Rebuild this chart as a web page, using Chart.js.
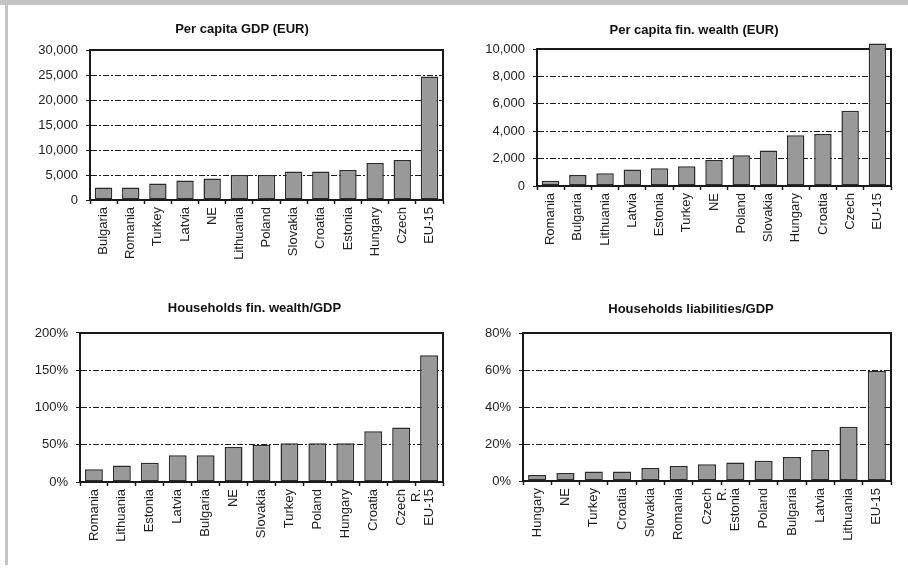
<!DOCTYPE html>
<html>
<head>
<meta charset="utf-8">
<script src="https://cdn.jsdelivr.net/npm/chart.js@4.4.1/dist/chart.umd.min.js"></script>
<style>
  html, body { margin: 0; padding: 0; background: #fff; overflow: hidden; }
  #page { position: relative; width: 908px; height: 572px; overflow: hidden; }
  .edge-top { position: absolute; left: 0; top: 0; width: 908px; height: 5px; background: #c4c4c4; }
  .edge-left { position: absolute; left: 5px; top: 0; width: 3px; height: 565px; background: #c4c4c4; }
  canvas { position: absolute; }
</style>
</head>
<body>
<div id="page">
  <div class="edge-top"></div>
  <div class="edge-left"></div>
  <canvas id="chart_gdp"></canvas>
  <canvas id="chart_wealth"></canvas>
  <canvas id="chart_wealth_gdp"></canvas>
  <canvas id="chart_liab_gdp"></canvas>
</div>
<script>
// Per capita GDP (EUR)
const gdpLabels = ['Bulgaria', 'Romania', 'Turkey', 'Latvia', 'NE', 'Lithuania', 'Poland',
    'Slovakia', 'Croatia', 'Estonia', 'Hungary', 'Czech', 'EU-15'];
const gdpValues = [2500, 2500, 3300, 3900, 4300, 5000, 5000, 5700, 5700, 6000, 7400, 8000, 24700];
const gdpMax = 30000, gdpStep = 5000;

// Per capita fin. wealth (EUR)
const wealthLabels = ['Romania', 'Bulgaria', 'Lithuania', 'Latvia', 'Estonia', 'Turkey', 'NE',
    'Poland', 'Slovakia', 'Hungary', 'Croatia', 'Czech', 'EU-15'];
const wealthValues = [380, 800, 930, 1200, 1300, 1450, 1900, 2250, 2600, 3700, 3800, 5500, 10400];
const wealthMax = 10000, wealthStep = 2000;

// Households fin. wealth/GDP (%)
const wealthGdpLabels = ['Romania', 'Lithuania', 'Estonia', 'Latvia', 'Bulgaria', 'NE', 'Slovakia',
    'Turkey', 'Poland', 'Hungary', 'Croatia', ['Czech', 'R.'], 'EU-15'];
const wealthGdpValues = [17, 22, 26, 36, 36, 47, 50, 52, 52, 52, 68, 73, 170];
const wealthGdpMax = 200, wealthGdpStep = 50;

// Households liabilities/GDP (%)
const liabLabels = ['Hungary', 'NE', 'Turkey', 'Croatia', 'Slovakia', 'Romania', ['Czech', 'R.'],
    'Estonia', 'Poland', 'Bulgaria', 'Latvia', 'Lithuania', 'EU-15'];
const liabValues = [3.3, 4.3, 5.2, 5.2, 7, 8.1, 9, 10, 11, 13, 16.7, 29.3, 59.4];
const liabMax = 80, liabStep = 20;

function withCommas(v) {
    return String(v).replace(/\B(?=(\d{3})+(?!\d))/g, ',');
}

// draws the closed frame round the plot area, under the bars
const frameBox = {
    id: 'frameBox',
    beforeDatasetsDraw(chart) {
        const a = chart.chartArea;
        const ctx = chart.ctx;
        ctx.save();
        ctx.strokeStyle = '#1a1a1a';
        ctx.lineWidth = 2;
        ctx.strokeRect(a.left, a.top, a.right - a.left, a.bottom - a.top);
        ctx.restore();
    }
};

// box: page coords of the plot area, the title centre, the left edge of the
// y labels and the top/bottom of the panel
function makeChart(id, title, labels, values, max, step, fmt, box) {
    const canvas = document.getElementById(id);
    const cLeft = box.labelLeft;
    const cRight = 2 * box.titleX - cLeft;   // so the title sits on titleX
    const cw = cRight - cLeft, ch = box.panelBottom - box.panelTop;
    canvas.width = cw;
    canvas.height = ch;
    canvas.style.left = cLeft + 'px';
    canvas.style.top = box.panelTop + 'px';

    const rightGap = cRight - box.right;
    const yWidth = box.left - cLeft;
    const xHeight = box.panelBottom - box.bottom;
    const titleTop = box.titleY - box.panelTop - 7.8;
    const titleBottom = box.top - box.panelTop - titleTop - 15.6;

    return new Chart(canvas.getContext('2d'), {
        type: 'bar',
        data: {
            labels: labels,
            datasets: [{
                data: values,
                backgroundColor: '#999999',
                borderColor: '#2b2b2b',
                borderWidth: 1.5,
                borderSkipped: false,
                barPercentage: 0.64,
                categoryPercentage: 1,
                clip: false
            }]
        },
        options: {
            responsive: false,
            animation: false,
            devicePixelRatio: 1,
            layout: { padding: 0 },
            plugins: {
                legend: { display: false },
                tooltip: { enabled: false },
                title: {
                    display: true,
                    text: title,
                    color: '#111',
                    font: { family: 'Liberation Sans, Arial, sans-serif', size: 13, weight: 'bold' },
                    padding: { top: titleTop, bottom: titleBottom }
                }
            },
            scales: {
                x: {
                    grid: {
                        offset: true,
                        drawOnChartArea: false,
                        drawTicks: true,
                        tickLength: 4,
                        tickWidth: 1.5,
                        tickColor: '#1a1a1a'
                    },
                    border: { color: '#1a1a1a', width: 2 },
                    ticks: {
                        autoSkip: false,
                        minRotation: 90,
                        maxRotation: 90,
                        padding: 3,
                        color: '#1e1e1e',
                        font: { family: 'Liberation Sans, Arial, sans-serif', size: 13 }
                    },
                    afterFit: function(scale) { scale.height = xHeight; }
                },
                y: {
                    min: 0,
                    max: max,
                    grid: {
                        color: '#1a1a1a',
                        lineWidth: 1,
                        drawTicks: true,
                        tickLength: 4,
                        tickColor: '#1a1a1a',
                        tickBorderDash: []
                    },
                    border: { color: '#1a1a1a', width: 2, dash: [6, 2, 2, 2] },
                    ticks: {
                        stepSize: step,
                        padding: 8,
                        color: '#222',
                        font: { family: 'Liberation Sans, Arial, sans-serif', size: 13 },
                        callback: fmt
                    },
                    afterFit: function(scale) { scale.width = yWidth; }
                },
                // empty right-hand axis, only keeps a blank strip right of the plot
                gap: {
                    type: 'linear',
                    position: 'right',
                    display: true,
                    grid: { display: false, drawTicks: false },
                    border: { display: false },
                    ticks: { display: false },
                    afterFit: function(scale) { scale.width = rightGap; }
                }
            }
        },
        plugins: [frameBox]
    });
}

const eur = v => withCommas(v);
const pct = v => v + '%';

makeChart('chart_gdp', 'Per capita GDP (EUR)', gdpLabels, gdpValues, gdpMax, gdpStep, eur,
    { left: 90, right: 443, top: 50, bottom: 200, titleX: 242, titleY: 29.5,
      labelLeft: 26, panelTop: 5, panelBottom: 290 });
makeChart('chart_wealth', 'Per capita fin. wealth (EUR)', wealthLabels, wealthValues, wealthMax, wealthStep, eur,
    { left: 537, right: 891, top: 49, bottom: 186, titleX: 694, titleY: 30,
      labelLeft: 476, panelTop: 5, panelBottom: 290 });
makeChart('chart_wealth_gdp', 'Households fin. wealth/GDP', wealthGdpLabels, wealthGdpValues, wealthGdpMax, wealthGdpStep, pct,
    { left: 80, right: 443, top: 333, bottom: 482, titleX: 254.5, titleY: 308.5,
      labelLeft: 26, panelTop: 290, panelBottom: 572 });
makeChart('chart_liab_gdp', 'Households liabilities/GDP', liabLabels, liabValues, liabMax, liabStep, pct,
    { left: 523, right: 891, top: 333, bottom: 481, titleX: 691, titleY: 309,
      labelLeft: 476, panelTop: 290, panelBottom: 572 });
</script>
</body>
</html>
